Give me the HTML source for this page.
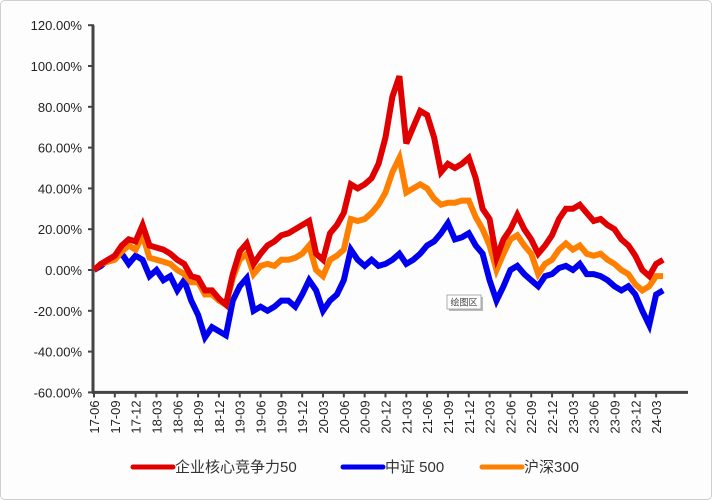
<!DOCTYPE html>
<html><head><meta charset="utf-8"><style>
body{margin:0;background:#fff;}
svg{display:block;font-family:"Liberation Sans","Noto Sans CJK SC",sans-serif;}
</style></head><body>
<svg id="chart" width="712" height="500">
<rect x="0.5" y="0.5" width="711" height="499" rx="4" fill="#fdfdfd" stroke="#d0d0d0"/>
<g id="yaxis"></g>
<g id="xaxis"></g>
<g id="series"></g>
<g>
<rect x="449" y="297" width="34" height="14" fill="#bbb"/>
<rect x="447" y="295" width="34" height="14" fill="#fff" stroke="#999" stroke-width="0.8"/>
<text x="464" y="305.5" font-size="9" text-anchor="middle" fill="#444">绘图区</text>
</g>
<g id="legend"></g>
</svg>
<script>
const yTicks=[120,100,80,60,40,20,0,-20,-40,-60];
const xLabels=["17-06","17-09","17-12","18-03","18-06","18-09","18-12","19-03","19-06","19-09","19-12","20-03","20-06","20-09","20-12","21-03","21-06","21-09","21-12","22-03","22-06","22-09","22-12","23-03","23-06","23-09","23-12","24-03"];
const seriesNames=["企业核心竞争力50","中证 500","沪深300"];
const redValues=[0,3,5,7,12,15,14,22,12,11,10,8,5,3,-3,-4,-10,-10,-14,-17,-2,9,13,3,8,12,14,17,18,20,22,24,8,5,18,22,28,42,40,42,45,52,65,85,95,62,70,78,76,65,48,52,50,52,55,45,30,25,6,15,20,27,20,15,8,12,17,25,30,30,32,28,24,25,22,20,15,12,7,0,-3,3,5];
const blueValues=[0,2,5,6,8,3,7,5,-3,0,-5,-3,-10,-5,-15,-22,-33,-28,-30,-32,-15,-8,-4,-20,-18,-20,-18,-15,-15,-18,-12,-5,-10,-20,-15,-12,-5,10,5,2,5,2,3,5,8,3,5,8,12,14,18,23,15,16,18,12,8,-5,-15,-8,0,2,-2,-5,-8,-3,-2,1,2,0,3,-2,-2,-3,-5,-8,-10,-8,-12,-20,-27,-12,-10];
const orangeValues=[0,3,4,5,9,12,10,17,6,5,4,3,0,-2,-6,-6,-12,-12,-15,-17,-4,5,8,-2,2,3,2,5,5,6,8,12,0,-3,5,7,10,25,24,25,28,32,38,48,55,38,40,42,40,35,32,33,33,34,34,26,20,12,0,8,15,17,12,8,-2,3,5,10,13,10,12,8,7,8,5,3,0,-2,-7,-10,-8,-3,-3];
const colors=["#e00000","#0000ee","#ff7f00"];
const NS="http://www.w3.org/2000/svg";
const x0=94,monthW=20.82/3,y0=270,pxPerPct=2.04;
const xs=m=>x0+m*monthW;
const ys=v=>y0-v*pxPerPct;
function mk(t,a,p){const e=document.createElementNS(NS,t);for(const k in a)e.setAttribute(k,a[k]);p.appendChild(e);return e;}
const ya=document.getElementById('yaxis');
yTicks.forEach(v=>{
 const t=mk('text',{x:82,y:ys(v)+5,'font-size':13,'text-anchor':'end',fill:'#222'},ya);
 t.textContent=v.toFixed(2)+'%';
 
 
 mk('line',{x1:88,x2:94,y1:ys(v),y2:ys(v),stroke:'#444','stroke-width':2},ya);
});
mk('line',{x1:93,x2:93,y1:ys(120),y2:ys(-60)+1,stroke:'#444','stroke-width':3},ya);
const xa=document.getElementById('xaxis');
mk('line',{x1:92,x2:688,y1:ys(-60),y2:ys(-60),stroke:'#444','stroke-width':3},xa);
xLabels.forEach((l,i)=>{
 const x=xs(i*3);
 mk('line',{x1:x,x2:x,y1:ys(-60),y2:ys(-60)+5,stroke:'#444','stroke-width':2},xa);
 const t=mk('text',{x:0,y:0,'font-size':13,'text-anchor':'end',fill:'#222',transform:`translate(${x+5},${ys(-60)+8}) rotate(-90)`},xa);
 t.textContent=l;
 
 
});
const sg=document.getElementById('series');
[blueValues,orangeValues,redValues].forEach((vals,k)=>{
 const ci=[1,2,0][k];
 const p=mk('polyline',{points:vals.map((v,i)=>xs(i).toFixed(1)+','+ys(v).toFixed(1)).join(' '),fill:'none',stroke:colors[ci],'stroke-width':6,'stroke-linejoin':'miter'},sg);
 
 
});
const lg=document.getElementById('legend');
const lx=[133,343,482];
seriesNames.forEach((n,i)=>{
 mk('line',{x1:lx[i],x2:lx[i]+40,y1:467,y2:467,stroke:colors[i],'stroke-width':5,'stroke-linecap':'round'},lg);
 const t=mk('text',{x:lx[i]+42,y:472,'font-size':15,fill:'#333'},lg);
 t.textContent=n;
 
 
});
</script>
</body></html>
